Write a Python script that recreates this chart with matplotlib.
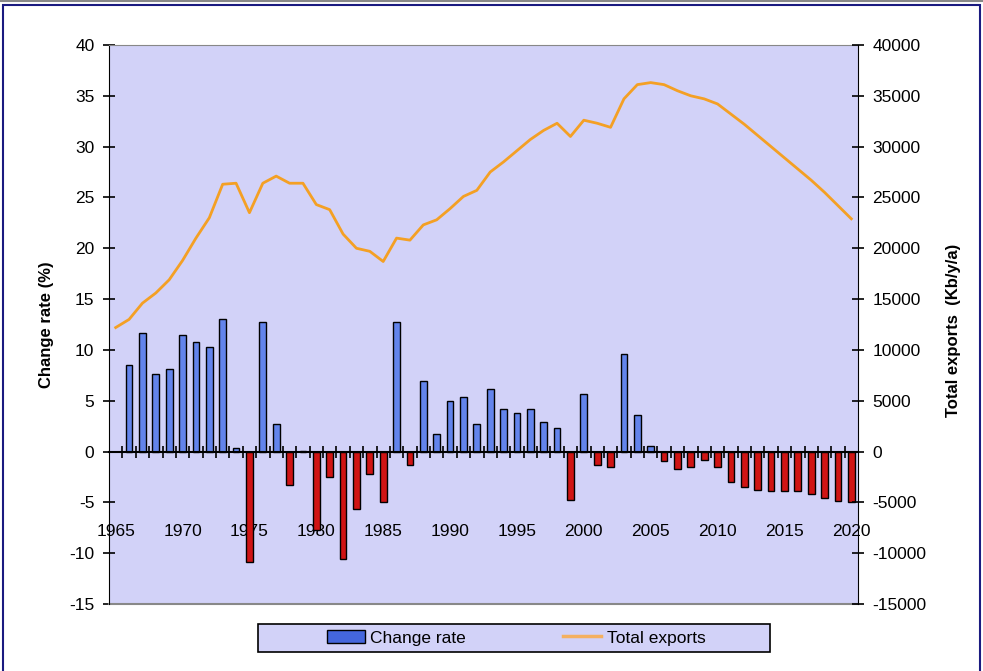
import matplotlib
matplotlib.use('Agg')
import matplotlib.pyplot as plt
import numpy as np
from matplotlib.patches import Rectangle, Patch
from matplotlib.lines import Line2D

# yearly change rate (%) of exports, 1966-2020
years = list(range(1966, 2021))
change_rate = [8.5, 11.7, 7.6, 8.1, 11.5, 10.8, 10.3, 13.0, 0.3, -10.9,
               12.7, 2.7, -3.3, 0.1, -7.7, -2.5, -10.6, -5.7, -2.2, -5.0,
               12.7, -1.3, 6.9, 1.7, 5.0, 5.4, 2.7, 6.2, 4.2, 3.8,
               4.2, 2.9, 2.3, -4.8, 5.7, -1.3, -1.5, 9.6, 3.6, 0.5,
               -0.9, -1.7, -1.5, -0.8, -1.5, -3.0, -3.5, -3.8, -3.9, -3.9,
               -3.9, -4.2, -4.6, -4.9, -5.0]

# total exports (Kb/y/a), 1965-2020
export_years = list(range(1965, 2021))
total_exports = [12200, 13000, 14600, 15600, 16900, 18800, 21000, 23000, 26300, 26400,
                 23500, 26400, 27100, 26400, 26400, 24300, 23800, 21400, 20000, 19700,
                 18700, 21000, 20800, 22300, 22800, 23900, 25100, 25700, 27500, 28500,
                 29600, 30700, 31600, 32300, 31000, 32600, 32300, 31900, 34700, 36100,
                 36300, 36100, 35500, 35000, 34700, 34200, 33200, 32200, 31100, 30000,
                 28900, 27800, 26700, 25500, 24200, 22900]

tick_years = list(range(1965, 2021, 5))

plt.rcParams['font.family'] = ['Liberation Sans', 'DejaVu Sans']
plt.rcParams['axes.unicode_minus'] = False

fig = plt.figure(figsize=(9.83, 6.71), dpi=100)
ax = fig.add_axes([109 / 983, 1 - 604 / 671, 749 / 983, 559 / 671])
ax.set_facecolor('#d2d2f8')

bar_colors = ['#6384ec' if v >= 0 else '#d01414' for v in change_rate]
ax.bar(years, change_rate, width=0.5, color=bar_colors, edgecolor='black',
       linewidth=1, zorder=3)

ax.set_xlim(1964.5, 2020.5)
ax.set_ylim(-15, 40)
ax.set_yticks(range(-15, 41, 5))
ax.spines['bottom'].set_position(('data', 0))
ax.spines['bottom'].set_linewidth(1.5)
ax.spines['bottom'].set_zorder(5)
ax.set_xticks(tick_years)
ax.set_xticks(np.arange(1965.5, 2020, 1), minor=True)
ax.tick_params(axis='x', which='major', length=0, pad=52, labelsize=12.5)
ax.tick_params(axis='x', which='minor', length=8, direction='inout', width=1.2)
ax.tick_params(axis='y', length=9, direction='inout', width=1.2, pad=6, labelsize=12.5)
ax.spines['top'].set_color('#888888')
ax.spines['right'].set_visible(False)
ax.axhline(-15, color='#888888', lw=1.5, clip_on=False)

ax.set_ylabel('Change rate (%)', fontsize=12, fontweight='bold')
ax.yaxis.set_label_coords(-0.074, 0.5)

ax2 = ax.twinx()
ax2.plot(export_years, total_exports, color='#f4a024', lw=2, zorder=4)
ax2.set_ylim(-15000, 40000)
ax2.set_yticks(range(-15000, 40001, 5000))
for s in ['top', 'bottom', 'left']:
    ax2.spines[s].set_visible(False)
ax2.tick_params(axis='y', length=9, direction='inout', width=1.2, pad=6, labelsize=12.5)
ax2.set_ylabel('Total exports  (Kb/y/a)', fontsize=12, fontweight='bold')
ax2.yaxis.set_label_coords(1.118, 0.49)

# legend box
fig.patches.append(Rectangle((258 / 983, 1 - 652 / 671), 512 / 983, 28 / 671,
                             transform=fig.transFigure, facecolor='#d2d2f8',
                             edgecolor='black', lw=1.2))
handles = [Patch(facecolor='#4466dd', edgecolor='black'),
           Line2D([], [], color='#f4b060', lw=2.5)]
fig.legend(handles, ['Change rate', 'Total exports'], loc='center',
           bbox_to_anchor=(516 / 983, 1 - 638 / 671), ncol=2, frameon=False,
           fontsize=12.5, columnspacing=5.6, handlelength=2.2, handletextpad=0.3)

# outer border
fig.patches.append(Rectangle((3 / 983, -0.01), 977 / 983, 1 - 5 / 671 + 0.01,
                             transform=fig.transFigure, fill=False,
                             edgecolor='#1a1a80', lw=1.5))
fig.add_artist(Line2D([0, 1], [0.999, 0.999], color='#888888', lw=1.5))

fig.savefig('out.png', dpi=100)
